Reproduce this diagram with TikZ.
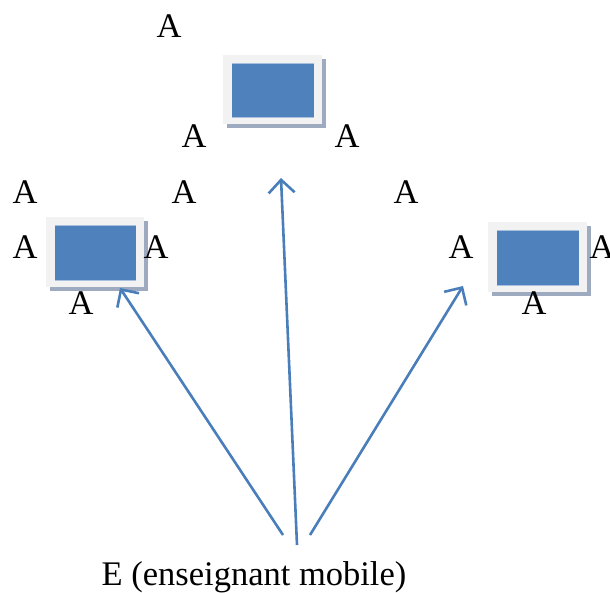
\documentclass[tikz,border=0pt]{standalone}
\usepackage{fontspec}
\setmainfont{Liberation Serif}
\usetikzlibrary{arrows.meta}
\definecolor{scrblue}{HTML}{4F81BD}
\definecolor{frame}{HTML}{F2F2F2}
\definecolor{shadowc}{HTML}{9DAABF}
\definecolor{edgeblue}{HTML}{A8C0DE}
\definecolor{arrowc}{HTML}{4A7EBB}
\tikzset{
  lbl/.style={font=\fontsize{34.5}{34.5}\selectfont, inner sep=0pt, anchor=center},
  conn/.style={draw=arrowc, line width=2.6pt, -{Straight Barb[length=13pt,width=26pt,line width=2.6pt]}},
}
\newcommand{\screen}[5]{% name, x1,y1,x2,y2 outer
  \fill[shadowc] (#2+4,#3+4) rectangle (#4+4,#5+4);
  \fill[frame] (#2,#3) rectangle (#4,#5);
  \fill[scrblue] (#2+8.5,#3+8) rectangle (#4-8.5,#5-7);
  \draw[edgeblue, line width=0.8pt] (#2+8.5,#3+8) -- (#4-8.5,#3+8);
  \draw[edgeblue, line width=0.8pt] (#2+8.5,#5-6.5) -- (#4-8.5,#5-6.5);
  \coordinate (#1) at ({(#2+#4)/2},{(#3+#5)/2});
}
\begin{document}
\begin{tikzpicture}[x=1pt,y=-1pt]
\useasboundingbox (0,0) rectangle (610,593);
\screen{top}{223}{55}{322}{124}
\screen{left}{46}{217}{144}{287}
\screen{right}{488}{222}{587}{292}
\coordinate (tipL) at (120,288);
\coordinate (tipM) at (281,178);
\coordinate (tipR) at (463,286);
\coordinate (srcL) at (283,535);
\coordinate (srcM) at (297,545);
\coordinate (srcR) at (310,535);
\draw[conn] (srcL) -- (tipL);
\draw[conn] (srcM) -- (tipM);
\draw[conn] (srcR) -- (tipR);
\node[lbl] (a1) at (169,26) {A};
\node[lbl] (a2) at (194,136) {A};
\node[lbl] (a3) at (347,136) {A};
\node[lbl] (a4) at (25,192) {A};
\node[lbl] (a5) at (184,192) {A};
\node[lbl] (a6) at (406,192) {A};
\node[lbl] (a7) at (25,247) {A};
\node[lbl] (a8) at (156,247) {A};
\node[lbl] (a9) at (81,303) {A};
\node[lbl] (a10) at (461,247) {A};
\node[lbl] (a11) at (602,247) {A};
\node[lbl] (a12) at (534,303) {A};
\node[lbl] (e) at (254,577) {E (enseignant mobile)};
\end{tikzpicture}
\end{document}
